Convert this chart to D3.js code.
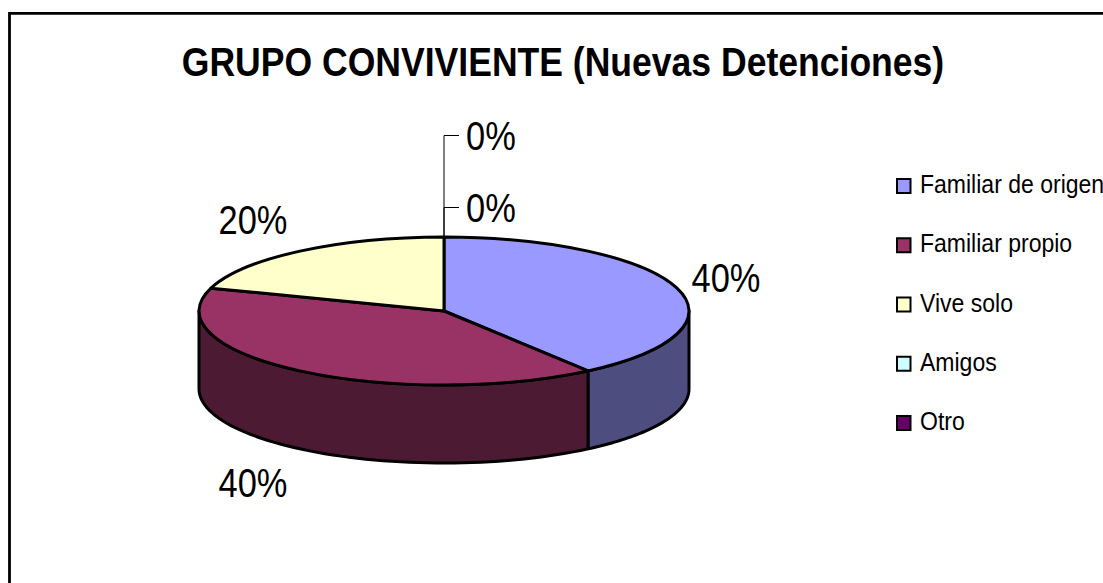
<!DOCTYPE html>
<html lang="es">
<head>
    <meta charset="UTF-8">
    <title>Grupo conviviente</title>
    <style>
        html, body { margin: 0; padding: 0; background: #ffffff; overflow: hidden; }
        svg { display: block; font-family: 'Liberation Sans', Arial, sans-serif; }
        .edge { stroke: #000; stroke-width: 3px; stroke-linejoin: round; vector-effect: non-scaling-stroke; }
    </style>
</head>
<body>
    <svg id="chart" width="1103" height="583"></svg>

    <script src="https://d3js.org/d3.v7.min.js"></script>
    <script>
        const categories = ['Familiar de origen', 'Familiar propio', 'Vive solo', 'Amigos', 'Otro'];
        const values = [40, 40, 20, 0, 0];
        const percentLabels = ['40%', '40%', '20%', '0%', '0%'];
        const topColors = ['#9999ff', '#993366', '#ffffcc', '#ccffff', '#660066'];
        const sideColors = ['#4d4d80', '#4d1a33', '#808066', '#668080', '#330033'];

        const svg = d3.select('#chart');
        const cx = 444, cy = 311, rx = 245, ry = 74, depth = 78;

        // chart frame, runs off the right and bottom of the picture
        svg.append('path')
            .attr('d', 'M9.5,583V13.4H1103')
            .attr('fill', 'none')
            .attr('stroke', '#000')
            .attr('stroke-width', 2.8);

        svg.append('text')
            .attr('transform', 'translate(563,75.5) scale(0.889,1)')
            .attr('text-anchor', 'middle')
            .attr('font-size', 40)
            .attr('font-weight', 'bold')
            .text('GRUPO CONVIVIENTE (Nuevas Detenciones)');

        const slices = d3.pie().sort(null)(values);

        const px = a => cx + rx * Math.sin(a);
        const py = a => cy - ry * Math.cos(a);

        // the wall is only visible between 3 o'clock and 9 o'clock
        function wallPath(d) {
            const a0 = Math.max(d.startAngle, Math.PI / 2);
            const a1 = Math.min(d.endAngle, Math.PI * 1.5);
            if (a1 <= a0) return null;
            const p = d3.path();
            p.moveTo(px(a0), py(a0));
            d3.range(0, 61).forEach(i => {
                const a = a0 + (a1 - a0) * i / 60;
                p.lineTo(px(a), py(a));
            });
            d3.range(60, -1, -1).forEach(i => {
                const a = a0 + (a1 - a0) * i / 60;
                p.lineTo(px(a), py(a) + depth);
            });
            p.closePath();
            return p.toString();
        }

        svg.append('g').selectAll('path')
            .data(slices.filter(d => wallPath(d)))
            .join('path')
            .attr('class', 'edge')
            .attr('d', wallPath)
            .attr('fill', d => sideColors[d.index]);

        // top face: circular arcs squashed into the ellipse
        const arc = d3.arc().innerRadius(0).outerRadius(rx);
        svg.append('g')
            .attr('transform', `translate(${cx},${cy}) scale(1,${ry / rx})`)
            .selectAll('path')
            .data(slices.filter(d => d.value > 0))
            .join('path')
            .attr('class', 'edge')
            .attr('d', arc)
            .attr('fill', d => topColors[d.index]);

        // leader lines of the two empty slices
        const leaderY = d3.scaleOrdinal().domain([3, 4]).range([207.5, 135.5]);
        svg.append('g').selectAll('path')
            .data([3, 4])
            .join('path')
            .attr('d', i => `M${cx},${cy - ry}V${leaderY(i)}H${cx + 15}`)
            .attr('fill', 'none')
            .attr('stroke', '#000')
            .attr('stroke-width', 1);

        const labelPos = [[726, 292], [253, 497], [253, 234], [491, 222], [491, 150]];
        svg.append('g').selectAll('text')
            .data(percentLabels)
            .join('text')
            .attr('transform', (d, i) => `translate(${labelPos[i][0]},${labelPos[i][1]}) scale(0.83,1)`)
            .attr('text-anchor', 'middle')
            .attr('font-size', 41.5)
            .text(d => d);

        const legendY = d3.scalePoint().domain(categories).range([186, 423]);
        const legend = svg.append('g').selectAll('g')
            .data(categories)
            .join('g')
            .attr('transform', d => `translate(896,${legendY(d)})`);
        legend.append('rect')
            .attr('x', 1)
            .attr('y', -7)
            .attr('width', 13.5)
            .attr('height', 14)
            .attr('fill', (d, i) => topColors[i])
            .attr('stroke', '#000')
            .attr('stroke-width', 2);
        legend.append('text')
            .attr('transform', 'translate(24,7) scale(0.885,1)')
            .attr('font-size', 26)
            .text(d => d);
    </script>
</body>
</html>
